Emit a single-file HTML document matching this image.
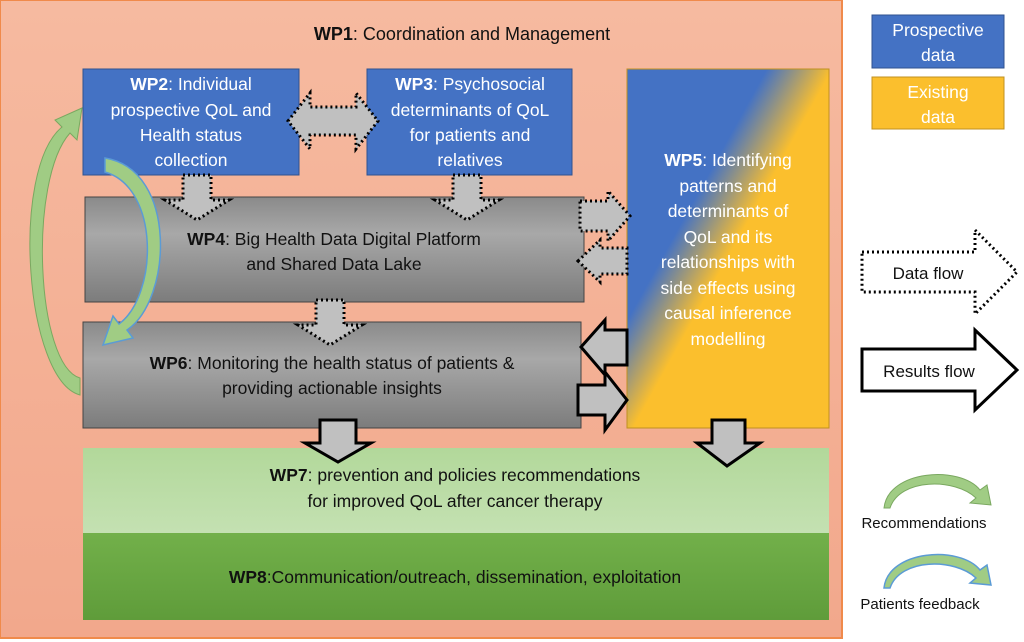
<!DOCTYPE html>
<html><head><meta charset="utf-8"><style>
html,body{margin:0;padding:0;background:#fff;width:1024px;height:642px;overflow:hidden}
svg{display:block}
text{font-family:"Liberation Sans",sans-serif}
</style></head><body>
<svg width="1024" height="642" viewBox="0 0 1024 642" xmlns="http://www.w3.org/2000/svg">
<defs>
<linearGradient id="bg" x1="0" y1="0" x2="0" y2="1"><stop offset="0" stop-color="#f6baa0"/><stop offset="1" stop-color="#f2a88c"/></linearGradient>
<linearGradient id="gray" x1="0" y1="0" x2="0" y2="1"><stop offset="0" stop-color="#8a8a8a"/><stop offset="0.35" stop-color="#a8a8a8"/><stop offset="1" stop-color="#7c7c7c"/></linearGradient>
<linearGradient id="wp5" gradientUnits="userSpaceOnUse" x1="650" y1="190" x2="776" y2="260"><stop offset="0.3" stop-color="#4472c4"/><stop offset="0.7" stop-color="#fbbf2d"/></linearGradient>
<linearGradient id="g7" x1="0" y1="0" x2="0" y2="1"><stop offset="0" stop-color="#b2d89a"/><stop offset="1" stop-color="#c4e1b2"/></linearGradient>
<linearGradient id="g8" x1="0" y1="0" x2="0" y2="1"><stop offset="0" stop-color="#72b04a"/><stop offset="1" stop-color="#5f9c3a"/></linearGradient>
</defs>
<rect x="0" y="0" width="842" height="638" fill="url(#bg)" stroke="#f08a4b" stroke-width="2"/>
<text x="462" y="40" font-size="18" text-anchor="middle" fill="#111"><tspan font-weight="bold">WP1</tspan>: Coordination and Management</text>

<rect x="83" y="69" width="216" height="106" fill="#4472c4" stroke="#2f528f"/>
<text font-size="17.5" fill="#fff" text-anchor="middle"><tspan x="191" y="90"><tspan font-weight="bold">WP2</tspan>: Individual</tspan><tspan x="191" y="116">prospective QoL and</tspan><tspan x="191" y="141">Health status</tspan><tspan x="191" y="166">collection</tspan></text>

<rect x="367" y="69" width="205" height="106" fill="#4472c4" stroke="#2f528f"/>
<text font-size="17.5" fill="#fff" text-anchor="middle"><tspan x="470" y="90"><tspan font-weight="bold">WP3</tspan>: Psychosocial</tspan><tspan x="470" y="116">determinants of QoL</tspan><tspan x="470" y="141">for patients and</tspan><tspan x="470" y="166">relatives</tspan></text>

<rect x="627" y="69" width="202" height="359" fill="url(#wp5)" stroke="#c09020"/>
<text font-size="17.5" fill="#fff" text-anchor="middle"><tspan x="728" y="166"><tspan font-weight="bold">WP5</tspan>: Identifying</tspan><tspan x="728" y="192">patterns and</tspan><tspan x="728" y="217">determinants of</tspan><tspan x="728" y="243">QoL and its</tspan><tspan x="728" y="268">relationships with</tspan><tspan x="728" y="294">side effects using</tspan><tspan x="728" y="319">causal inference</tspan><tspan x="728" y="345">modelling</tspan></text>

<rect x="85" y="197" width="499" height="105" fill="url(#gray)" stroke="#444"/>
<text font-size="17.5" fill="#111" text-anchor="middle"><tspan x="334" y="245"><tspan font-weight="bold">WP4</tspan>: Big Health Data Digital Platform</tspan><tspan x="334" y="270">and Shared Data Lake</tspan></text>

<rect x="83" y="322" width="498" height="106" fill="url(#gray)" stroke="#444"/>
<text font-size="17.5" fill="#111" text-anchor="middle"><tspan x="332" y="369"><tspan font-weight="bold">WP6</tspan>: Monitoring the health status of patients &amp;</tspan><tspan x="332" y="394">providing actionable insights</tspan></text>

<rect x="83" y="448" width="746" height="85" fill="url(#g7)"/>
<text font-size="17.5" fill="#111" text-anchor="middle"><tspan x="455" y="481"><tspan font-weight="bold">WP7</tspan>: prevention and policies recommendations</tspan><tspan x="455" y="507">for improved QoL after cancer therapy</tspan></text>
<rect x="83" y="533" width="746" height="87" fill="url(#g8)"/>
<text x="455" y="583" font-size="17.5" fill="#111" text-anchor="middle"><tspan font-weight="bold">WP8</tspan>:Communication/outreach, dissemination, exploitation</text>

<g fill="#c0c0c0" stroke="#000" stroke-width="3" stroke-dasharray="2,3">
<polygon points="288,121 310,93 310,107 356,107 356,93 378,121 356,149 356,135 310,135 310,149"/>
<polygon points="183,175 211,175 211,200 229,200 197,220 165,200 183,200"/>
<polygon points="453,175 481,175 481,200 499,200 467,220 435,200 453,200"/>
<polygon points="316,300 344,300 344,325 362,325 330,345 298,325 316,325"/>
<polygon points="580,201 608,201 608,191 630,216 608,241 608,231 580,231"/>
<polygon points="578,261 600,240 600,248 627,248 627,274 600,274 600,282"/>
</g>
<g fill="#c0c0c0" stroke="#000" stroke-width="3">
<polygon points="581,347 605,320 605,330 627,330 627,365 605,365 605,375"/>
<polygon points="578,385 605,385 605,372 627,400 605,430 605,415 578,415"/>
<polygon points="320,420 356,420 356,443 371,443 338,462 305,443 320,443"/>
<polygon points="712,420 745,420 745,443 760,443 727,466 697,443 712,443"/>
</g>

<path d="M80,395 C25,380 10,170 62,127 L55,120 L82,108 L77,140 L70,133 C28,180 36,365 80,378 Z" fill="#a0cc84" stroke="#7aa860" stroke-width="1"/>
<path d="M105,158 C178,170 172,300 127,330 L133,338 L103,345 L113,316 L119,324 C158,295 160,188 105,172 Z" fill="#a0cc84" stroke="#5b9bd5" stroke-width="1.5"/>

<rect x="872" y="15" width="132" height="53" fill="#4472c4" stroke="#2f528f"/>
<text font-size="17.5" fill="#fff" text-anchor="middle"><tspan x="938" y="36">Prospective</tspan><tspan x="938" y="61">data</tspan></text>
<rect x="872" y="77" width="132" height="52" fill="#fbbf2d" stroke="#c09020"/>
<text font-size="17.5" fill="#fff" text-anchor="middle"><tspan x="938" y="98">Existing</tspan><tspan x="938" y="123">data</tspan></text>

<polygon points="862,252 975,252 975,230 1017,272 975,314 975,292 862,292" fill="#fff" stroke="#000" stroke-width="3" stroke-dasharray="2,3"/>
<text x="928" y="279" font-size="17" fill="#111" text-anchor="middle">Data flow</text>
<polygon points="862,349 975,349 975,330 1017,370 975,410 975,391 862,391" fill="#fff" stroke="#000" stroke-width="3"/>
<text x="929" y="377" font-size="17" fill="#111" text-anchor="middle">Results flow</text>

<path d="M884,508 C888,470 960,465 980,490 L987,485 L991,505 L970,503 L976,498 C955,478 900,478 890,508 Z" fill="#a0cc84" stroke="#7aa860"/>
<text x="924" y="528" font-size="15" fill="#111" text-anchor="middle">Recommendations</text>
<path d="M884,588 C888,550 960,545 980,570 L987,565 L991,585 L970,583 L976,578 C955,558 900,558 890,588 Z" fill="#a0cc84" stroke="#5b9bd5" stroke-width="1.5"/>
<text x="920" y="609" font-size="15" fill="#111" text-anchor="middle">Patients feedback</text>
</svg>
</body></html>
